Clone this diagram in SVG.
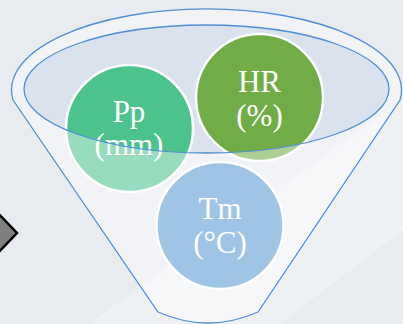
<svg xmlns="http://www.w3.org/2000/svg" width="403" height="324" viewBox="0 0 403 324">
<style>
.circ{stroke:#ffffff;stroke-width:2.5}
.lbl{font-family:"Liberation Serif","Times New Roman",serif;font-size:31px;fill:#ffffff;text-anchor:middle}
.edge{fill:none;stroke:#4f8fd6;stroke-width:1.3}
</style>
<rect width="403" height="324" fill="#e8ebef"/>
<polygon points="88,324 403,100 403,230 280,324" fill="#eef1f4"/>
<g id="arrow">
<polygon points="-6,209 17,233 -6,257" fill="#7f7f7f" stroke="#000000" stroke-width="2.5"/>
</g>
<g id="funnel-mouth">
<ellipse cx="206.5" cy="89" rx="182.5" ry="64" fill="#dae2ee"/>
</g>
<g id="node-pp">
<circle class="circ" cx="129.5" cy="128.5" r="63.5" fill="#4cc38d"/>
<text class="lbl" x="129" y="122">Pp</text>
<text class="lbl" x="129" y="155">(mm)</text>
</g>
<g id="node-hr">
<circle class="circ" cx="259.5" cy="97.5" r="63.5" fill="#70ad47"/>
<text class="lbl" x="259.5" y="92">HR</text>
<text class="lbl" x="259.5" y="126">(%)</text>
</g>
<g id="node-tm">
<circle class="circ" cx="220" cy="225.5" r="63.5" fill="#5b9bd5"/>
<text class="lbl" x="220" y="219">Tm</text>
<text class="lbl" x="220" y="253">(°C)</text>
</g>
<g id="funnel">
<path d="M13,100 L158,312 Q208,334 258,312 L400,100 A195,81 0 1 0 13,100 Z M24,89 A182.5,64 0 1 0 389,89 A182.5,64 0 1 0 24,89 Z" fill="#ffffff" fill-opacity="0.42" fill-rule="evenodd"/>
<path class="edge" d="M13,100 L158,312 Q208,334 258,312 L400,100 A195,81 0 1 0 13,100 Z"/>
<ellipse class="edge" cx="206.5" cy="89" rx="182.5" ry="64"/>
</g>
</svg>
